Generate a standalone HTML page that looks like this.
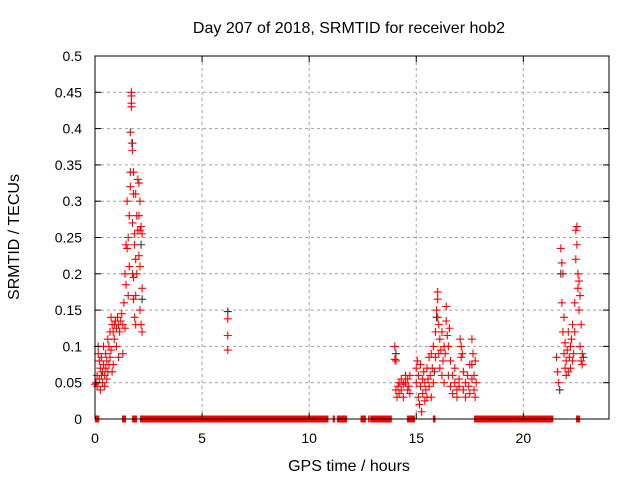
<!DOCTYPE html>
<html><head><meta charset="utf-8"><style>
html,body{margin:0;padding:0;background:#fff}
svg{display:block;font-family:"Liberation Sans",sans-serif}
</style></head><body>
<svg id="chart" width="640" height="480" viewBox="0 0 640 480">
<text x="349" y="33" font-size="16" text-anchor="middle">Day 207 of 2018, SRMTID for receiver hob2</text>
<text x="349" y="471" font-size="16" text-anchor="middle">GPS time / hours</text>
<text x="19" y="237" font-size="16" text-anchor="middle" transform="rotate(-90 19 237)">SRMTID / TECUs</text>
<g id="grid"></g>
<g id="zero"></g>
<g id="black"></g>
<g id="red"></g>
<rect x="95" y="56" width="514" height="363" fill="none" stroke="#000" stroke-width="1"/>
<g id="axes"></g>
</svg>
<script>
const xTicks=[0,5,10,15,20];
const xTickLabels=["0","5","10","15","20"];
const yTicks=[0,0.05,0.1,0.15,0.2,0.25,0.3,0.35,0.4,0.45,0.5];
const yTickLabels=["0","0.05","0.1","0.15","0.2","0.25","0.3","0.35","0.4","0.45","0.5"];
const zeroRanges=[[0,0.2],[1.26,1.45],[1.73,1.96],[2.1,10.9],[11.1,11.2],[11.3,11.77],[12.4,12.65],[12.75,12.8],[12.85,13.86],[14.57,14.94],[15.78,15.9],[17.7,21.4],[22.46,22.65]];
const redPoints=[[0.0,0.048],[0.05,0.05],[0.1,0.045],[0.1,0.06],[0.15,0.1],[0.15,0.09],[0.2,0.08],[0.2,0.055],[0.25,0.07],[0.25,0.04],[0.3,0.06],[0.3,0.085],[0.35,0.065],[0.35,0.05],[0.4,0.075],[0.4,0.1],[0.45,0.06],[0.45,0.045],[0.5,0.07],[0.5,0.09],[0.55,0.08],[0.55,0.055],[0.6,0.11],[0.6,0.065],[0.65,0.1],[0.65,0.075],[0.7,0.12],[0.7,0.085],[0.75,0.14],[0.75,0.095],[0.8,0.13],[0.8,0.065],[0.85,0.12],[0.85,0.075],[0.9,0.11],[0.9,0.13],[0.95,0.135],[1.0,0.1],[1.0,0.125],[1.05,0.14],[1.1,0.13],[1.1,0.085],[1.15,0.12],[1.2,0.135],[1.25,0.145],[1.3,0.13],[1.3,0.09],[1.35,0.16],[1.4,0.125],[1.4,0.2],[1.45,0.24],[1.45,0.185],[1.5,0.235],[1.5,0.3],[1.55,0.25],[1.55,0.17],[1.6,0.21],[1.6,0.28],[1.65,0.395],[1.65,0.34],[1.65,0.32],[1.7,0.45],[1.7,0.445],[1.7,0.435],[1.7,0.43],[1.72,0.38],[1.75,0.37],[1.75,0.27],[1.75,0.2],[1.8,0.34],[1.8,0.31],[1.8,0.195],[1.8,0.165],[1.85,0.255],[1.85,0.24],[1.85,0.14],[1.9,0.31],[1.9,0.22],[1.9,0.17],[1.9,0.13],[1.95,0.28],[1.95,0.2],[2.0,0.26],[2.0,0.33],[2.05,0.325],[2.05,0.28],[2.05,0.225],[2.1,0.3],[2.1,0.26],[2.1,0.21],[2.1,0.15],[2.15,0.265],[2.15,0.13],[2.2,0.255],[2.2,0.18],[2.2,0.12],
[6.2,0.138],[6.2,0.115],[6.2,0.095],
[14.0,0.1],[14.0,0.082],[14.05,0.08],[14.05,0.04],[14.1,0.03],[14.15,0.045],[14.2,0.05],[14.2,0.035],[14.3,0.04],[14.3,0.055],[14.4,0.03],[14.4,0.048],[14.5,0.05],[14.5,0.06],[14.6,0.055],[14.6,0.04],[14.7,0.06],[14.7,0.035],[14.65,0.045],
[15.0,0.07],[15.0,0.05],[15.05,0.08],[15.1,0.03],[15.1,0.06],[15.15,0.02],[15.2,0.045],[15.2,0.075],[15.25,0.01],[15.3,0.035],[15.3,0.055],[15.35,0.065],[15.4,0.025],[15.4,0.05],[15.45,0.04],[15.5,0.07],[15.5,0.03],[15.55,0.055],[15.6,0.085],[15.6,0.045],[15.65,0.06],[15.7,0.03],[15.7,0.09],[15.75,0.07],[15.8,0.05],[15.8,0.1],[15.85,0.065],[15.9,0.12],[15.9,0.085],[15.95,0.15],[16.0,0.175],[16.0,0.165],[16.0,0.14],[16.05,0.13],[16.05,0.09],[16.1,0.11],[16.1,0.07],[16.15,0.095],[16.2,0.06],[16.2,0.12],[16.25,0.08],[16.3,0.1],[16.3,0.05],[16.35,0.09],[16.4,0.155],[16.4,0.135],[16.45,0.115],[16.5,0.1],[16.5,0.06],[16.55,0.125],[16.6,0.08],[16.6,0.045],[16.7,0.06],[16.7,0.035],[16.8,0.05],[16.8,0.07],[16.9,0.04],[16.9,0.03],[17.0,0.055],[17.0,0.045],[17.05,0.11],[17.1,0.1],[17.1,0.085],[17.15,0.09],[17.2,0.065],[17.2,0.04],[17.3,0.05],[17.3,0.03],[17.4,0.06],[17.45,0.045],[17.5,0.075],[17.5,0.035],[17.6,0.11],[17.6,0.055],[17.65,0.09],[17.7,0.06],[17.7,0.04],[17.75,0.03],[17.75,0.08],[17.8,0.05],
[21.55,0.085],[21.6,0.065],[21.65,0.05],[21.75,0.235],[21.8,0.215],[21.8,0.16],[21.85,0.2],[21.85,0.12],[21.9,0.14],[21.9,0.09],[21.95,0.105],[21.95,0.07],[22.0,0.08],[22.0,0.06],[22.05,0.095],[22.1,0.065],[22.1,0.12],[22.15,0.085],[22.2,0.1],[22.2,0.07],[22.25,0.11],[22.3,0.13],[22.3,0.08],[22.35,0.09],[22.4,0.16],[22.4,0.12],[22.45,0.26],[22.45,0.22],[22.5,0.265],[22.5,0.24],[22.55,0.2],[22.55,0.18],[22.6,0.19],[22.6,0.15],[22.65,0.17],[22.65,0.1],[22.7,0.13],[22.7,0.08],[22.75,0.09],[22.75,0.075]];
const blackPoints=[[1.75,0.38],[2.15,0.24],[2.2,0.165],[6.2,0.148],[15.95,0.14],[21.75,0.2],[21.7,0.04],[22.8,0.085],[17.6,0.075],[14.05,0.09]];

const X0=95,X1=609,Y0=419,Y1=56,XMAX=24,YMAX=0.5;
function sx(h){return X0+(X1-X0)*h/XMAX;}
function sy(v){return Y0-(Y0-Y1)*v/YMAX;}
const NS="http://www.w3.org/2000/svg";
function mk(tag,attrs,parent){const e=document.createElementNS(NS,tag);for(const k in attrs)e.setAttribute(k,attrs[k]);parent.appendChild(e);return e;}
const grid=document.getElementById('grid'),axes=document.getElementById('axes');
xTicks.forEach((t,i)=>{
  const x=sx(t);
  if(t>0){const g=mk('line',{x1:x,x2:x,y1:Y1,y2:Y0,stroke:'#a0a0a0','stroke-dasharray':'3,3'},grid);
  
  }
  mk('line',{x1:x,x2:x,y1:Y0,y2:Y0-6,stroke:'#000'},axes);
  mk('line',{x1:x,x2:x,y1:Y1,y2:Y1+6,stroke:'#000'},axes);
  const l=mk('text',{x:x,y:443,'font-size':14,'text-anchor':'middle'},axes);
  l.textContent=xTickLabels[i];
  
  
});
yTicks.forEach((t,i)=>{
  const y=sy(t);
  if(t>0&&t<YMAX){const g=mk('line',{x1:X0,x2:X1,y1:y,y2:y,stroke:'#a0a0a0','stroke-dasharray':'3,3'},grid);
  
  }
  mk('line',{x1:X0,x2:X0+6,y1:y,y2:y,stroke:'#000'},axes);
  mk('line',{x1:X1,x2:X1-6,y1:y,y2:y,stroke:'#000'},axes);
  const l=mk('text',{x:82,y:y+5,'font-size':14,'text-anchor':'end'},axes);
  l.textContent=yTickLabels[i];
  
  
});
const zg=document.getElementById('zero');
zeroRanges.forEach(r=>{
  const a=sx(r[0]),b=sx(r[1]);
  const e=mk('rect',{x:a,y:sy(0)-3.5,width:Math.max(b-a,1.5),height:7,fill:'#ff0000'},zg);
  
  
});
function plus(g,p,col){
  const x=sx(p[0]),y=sy(p[1]);
  const e=mk('path',{d:`M${x-4} ${y}H${x+4}M${x} ${y-4}V${y+4}`,stroke:col,'stroke-width':1.1,fill:'none'},g);
  
  
}
const bg=document.getElementById('black'),rg=document.getElementById('red');
blackPoints.forEach(p=>plus(bg,p,'#333'));
redPoints.forEach(p=>plus(rg,p,'#ff0000'));
</script>
</body></html>
